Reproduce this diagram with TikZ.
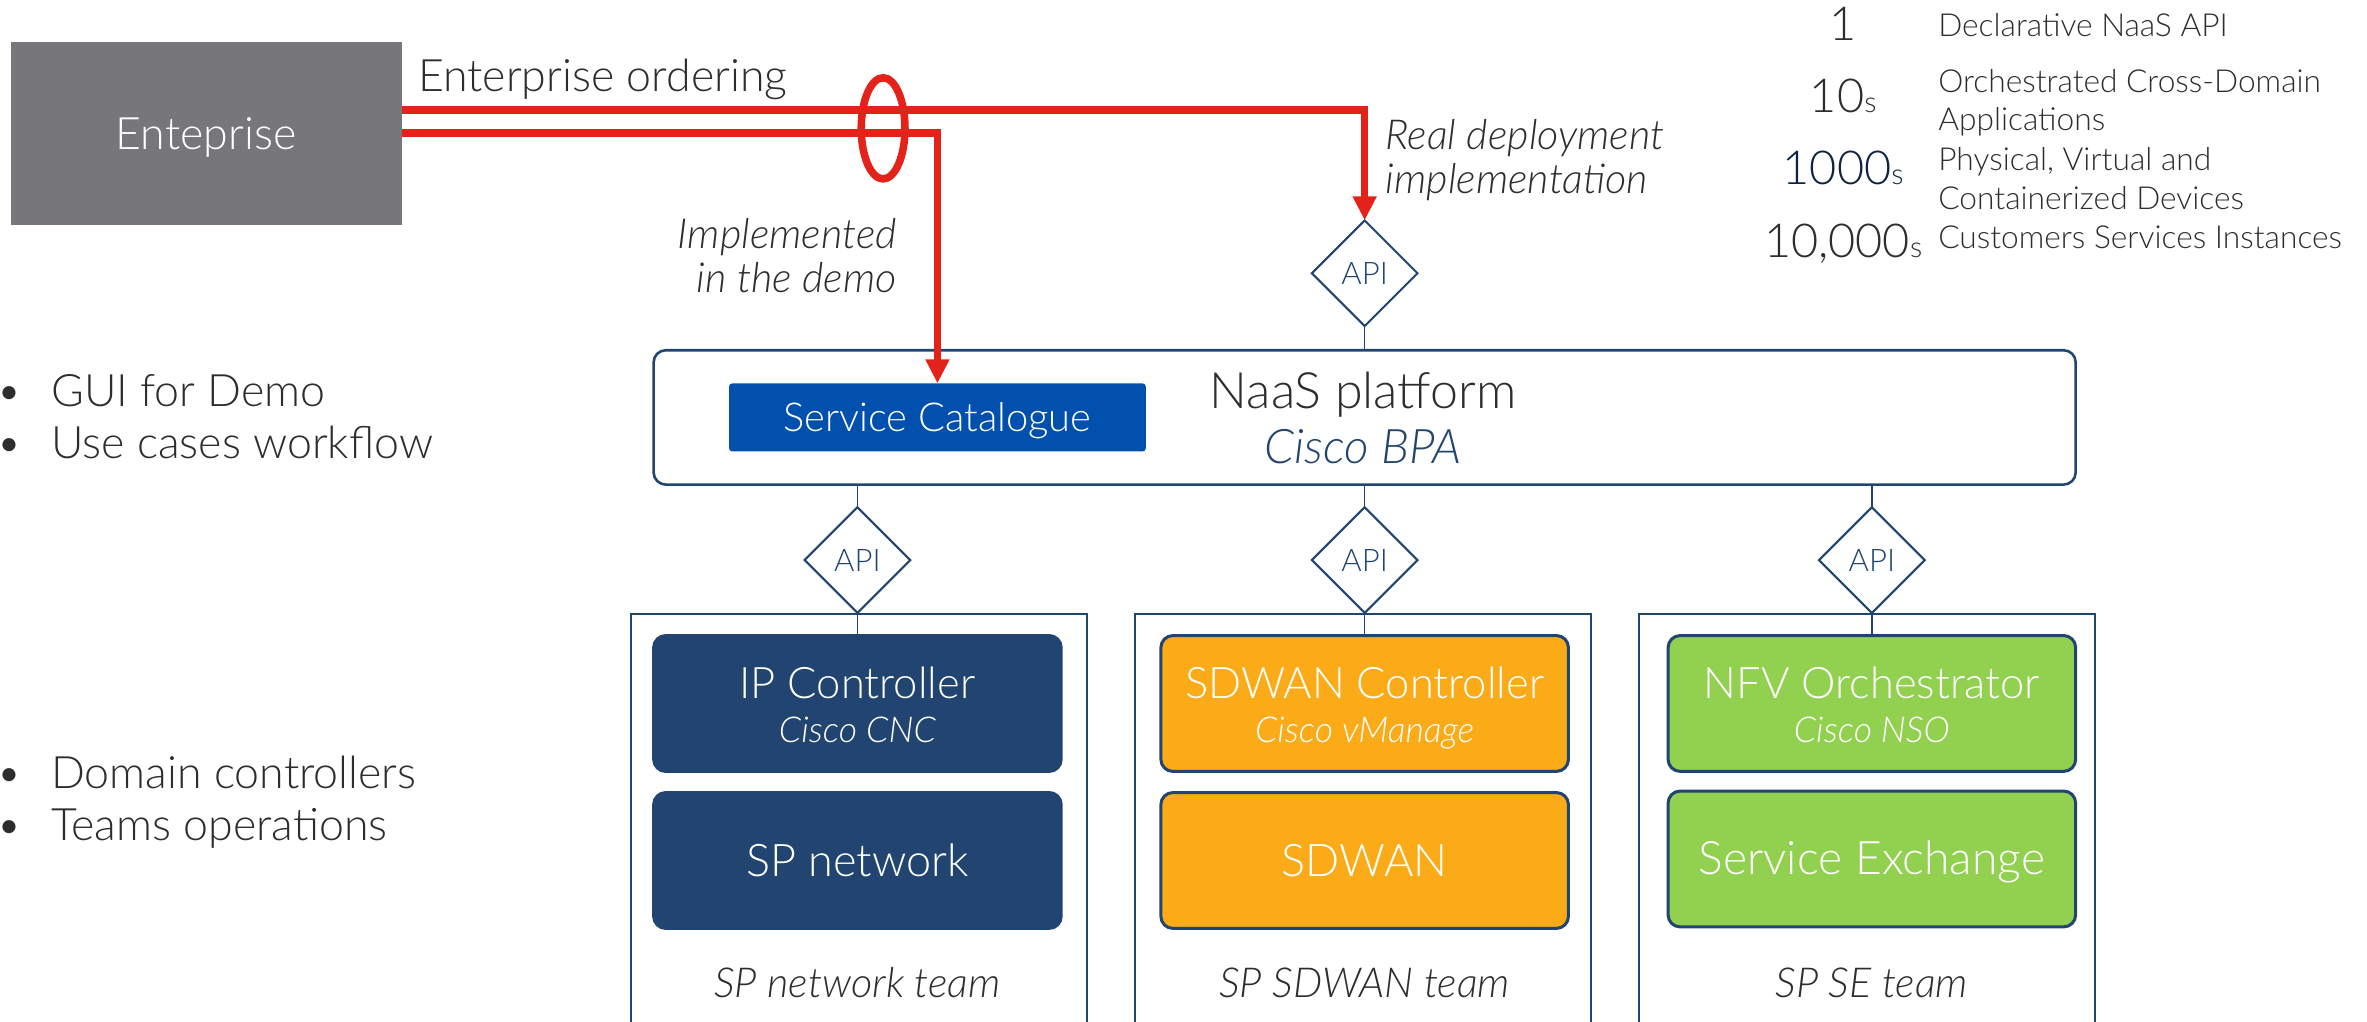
\documentclass[tikz,border=0pt]{standalone}
\usepackage{fontspec}
\setmainfont{Lato}[UprightFont=* Light, ItalicFont=* Light Italic, BoldFont=* Regular]
\usetikzlibrary{shapes.geometric,arrows.meta}
\definecolor{navy}{RGB}{33,69,112}
\definecolor{catblue}{RGB}{1,80,173}
\definecolor{corange}{RGB}{251,171,24}
\definecolor{cgreen}{RGB}{146,208,80}
\definecolor{entgray}{RGB}{119,118,123}
\definecolor{cred}{RGB}{227,35,26}
\definecolor{txt}{RGB}{45,45,45}
\definecolor{deepnavy}{RGB}{15,35,65}
\tikzset{
  every node/.style={inner sep=0pt, outer sep=0pt, text=txt},
  ch/.style={text height=#1, text depth=0pt},
  fbig/.style={font=\fontsize{14.8}{16}\selectfont, ch=10.5pt},
  ftitle/.style={font=\fontsize{14.4}{16}\selectfont, ch=10.2pt},
  fdom/.style={font=\fontsize{14.9}{16}\selectfont, ch=10.6pt},
  fsub/.style={font=\fontsize{11.8}{13}\itshape, ch=8.4pt},
  fteam/.style={font=\fontsize{13.7}{15}\itshape, ch=9.8pt},
  fnote/.style={font=\fontsize{13.7}{15}\itshape, ch=9.8pt},
  fleg/.style={font=\fontsize{10.5}{12}\selectfont, ch=7.5pt, anchor=west},
  fnum/.style={font=\fontsize{15.5}{17}\selectfont, ch=11pt},
  entbox/.style={fill=entgray, minimum width=129.5pt, minimum height=60.5pt},
  ctrl/.style={draw=navy, line width=1pt, rounded corners=4pt, minimum width=135pt, minimum height=45pt},
  teambox/.style={draw=navy, line width=0.65pt, minimum width=151pt, minimum height=146.5pt},
  apid/.style={diamond, draw=navy, line width=0.7pt, fill=white, minimum width=35pt, minimum height=35pt, text=navy, font=\fontsize{10.3}{10}\selectfont},
  conn/.style={draw=navy, line width=0.5pt},
  redl/.style={draw=cred, line width=2.5pt, -{Triangle[length=8pt,width=7.5pt]}},
}
\begin{document}
\begin{tikzpicture}[x=0.5pt,y=-0.5pt]
\useasboundingbox (0,0) rectangle (1568,677);
\clip (0,0) rectangle (1568,677);

% Enterprise
\node[entbox, fbig, text=white] (ent) at (136.5,88.5) {Enteprise};
\node[fbig, anchor=west] (ordering) at (277,50) {Enterprise ordering};
\node[fnote, anchor=east] (impl1) at (594,155) {Implemented};
\node[fnote, anchor=east] (impl2) at (594,184) {in the demo};
\node[fnote, anchor=west] (real1) at (918,89) {Real deployment};
\node[fnote, anchor=west] (real2) at (918,118.5) {implementation};

% Legend
\node[fnum] (n1) at (1221,15.5) {1};
\node[fnum] (n2) at (1221,63.5) {10{\fontsize{9.5}{9}\selectfont s}};
\node[fnum, text=deepnavy] (n3) at (1221,111.5) {1000{\fontsize{9.5}{9}\selectfont s}};
\node[fnum] (n4) at (1221,159.5) {10,000{\fontsize{9.5}{9}\selectfont s}};
\node[fleg] (l1) at (1284,17) {Declarative NaaS API};
\node[fleg] (l2a) at (1284,53.5) {Orchestrated Cross-Domain};
\node[fleg] (l2b) at (1284,79) {Applications};
\node[fleg] (l3a) at (1284,105.5) {Physical, Virtual and};
\node[fleg] (l3b) at (1284,131) {Containerized Devices};
\node[fleg] (l4) at (1284,157) {Customers Services Instances};

% Bullets
\node[fbig] (b1) at (6,259) {•};
\node[fbig, anchor=west] (t1) at (34,259) {GUI for Demo};
\node[fbig] (b2) at (6,293) {•};
\node[fbig, anchor=west] (t2) at (34,293) {Use cases workflow};
\node[fbig] (b3) at (6,512) {•};
\node[fbig, anchor=west] (t3) at (34,512) {Domain controllers};
\node[fbig] (b4) at (6,546) {•};
\node[fbig, anchor=west] (t4) at (34,546) {Teams operations};

% NaaS platform
\node[draw=navy, line width=0.85pt, rounded corners=4pt, minimum width=471pt, minimum height=44.5pt] (naas) at (904,276.5) {};
\node[fill=catblue, rounded corners=1pt, minimum width=138pt, minimum height=22.5pt, text=white, font=\fontsize{13.2}{14}\selectfont, ch=9.4pt] (cat) at (621,276.5) {Service Catalogue};
\node[font=\fontsize{16.6}{18}\selectfont, ch=11.8pt] (naastitle) at (903,259) {NaaS platform};
\node[font=\fontsize{15.8}{17}\itshape, ch=11.2pt, text=navy] (bpa) at (903,296) {Cisco BPA};

% API diamonds
\node[apid] (apitop) at (904,181) {API};
\node[apid] (api1) at (568,371) {API};
\node[apid] (api2) at (904,371) {API};
\node[apid] (api3) at (1240,371) {API};

% Team columns
\node[teambox] (team1) at (569,553.5) {};
\node[teambox] (team2) at (903,553.5) {};
\node[teambox] (team3) at (1237,553.5) {};

% Controllers and domains
\node[ctrl, fill=navy] (ipc) at (568,466) {};
\node[ftitle, text=white] (ipct) at (568,452.5) {IP Controller};
\node[fsub, text=white] (ipcs) at (568,483.5) {Cisco CNC};
\node[ctrl, fill=navy, fdom, text=white] (spn) at (568,570) {SP network};

\node[ctrl, fill=corange] (sdc) at (904,466) {};
\node[ftitle, text=white] (sdct) at (904,452.5) {SDWAN Controller};
\node[fsub, text=white] (sdcs) at (904,483.5) {Cisco vManage};
\node[ctrl, fill=corange, fdom, text=white] (sdw) at (904,570) {SDWAN};

\node[ctrl, fill=cgreen] (nfv) at (1240,466) {};
\node[ftitle, text=white] (nfvt) at (1240,452.5) {NFV Orchestrator};
\node[fsub, text=white] (nfvs) at (1240,483.5) {Cisco NSO};
\node[ctrl, fill=cgreen, fdom, font=\fontsize{15.3}{16}\selectfont, text=white] (sex) at (1240,569) {Service Exchange};

\node[fteam] (tm1) at (568,651) {SP network team};
\node[fteam] (tm2) at (904,651) {SP SDWAN team};
\node[fteam] (tm3) at (1240,651) {SP SE team};

% Connectors
\draw[conn] (apitop.south) -- (apitop.south |- naas.north);
\draw[conn] (naas.south -| api1.north) -- (api1.north);
\draw[conn] (naas.south -| api2.north) -- (api2.north);
\draw[conn] (naas.south -| api3.north) -- (api3.north);
\draw[conn] (api1.south) -- (ipc.north);
\draw[conn] (api2.south) -- (sdc.north);
\draw[conn] (api3.south) -- (nfv.north);

% Red ordering lines
\draw[redl] (ent.east |- 0,73) -| (apitop.north);
\draw[redl] (ent.east |- 0,88) -| (cat.north);
\node[ellipse, draw=cred, line width=2.5pt, minimum width=14.5pt, minimum height=33.5pt] (ring) at (585,85) {};
\end{tikzpicture}
\end{document}
